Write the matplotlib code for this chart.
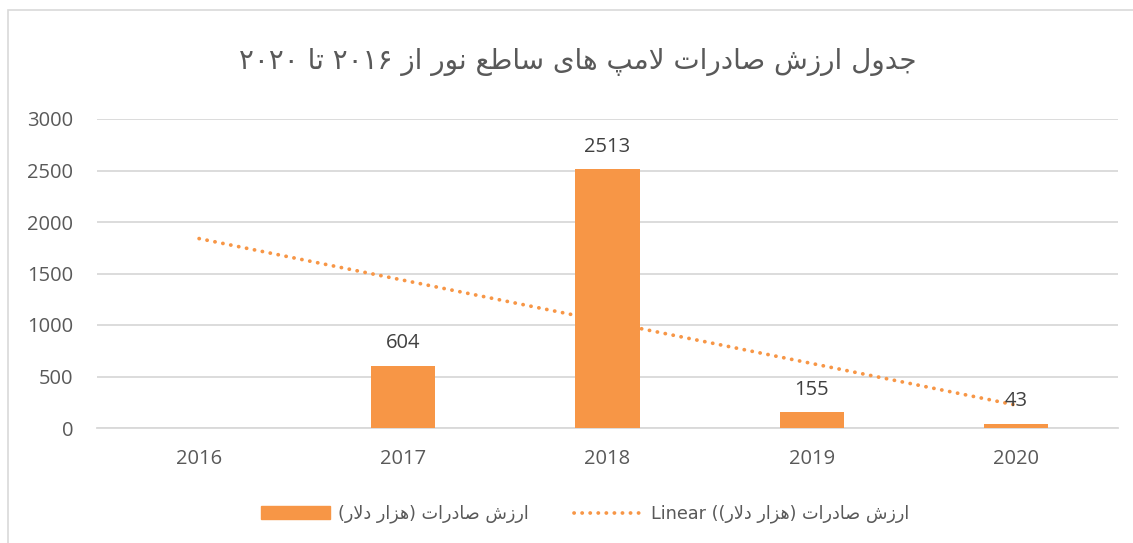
import matplotlib
matplotlib.use("Agg")
import matplotlib.pyplot as plt
import numpy as np
from matplotlib.patches import Rectangle
from matplotlib.lines import Line2D

# ---------------- data ----------------
years = ["2016", "2017", "2018", "2019", "2020"]
values = [np.nan, 604, 2513, 155, 43]
title_text = "جدول ارزش صادرات لامپ های ساطع نور از ۲۰۱۶ تا ۲۰۲۰"
series_name = "ارزش صادرات (هزار دلار)"
trend_prefix = "Linear ("
yticks = [0, 500, 1000, 1500, 2000, 2500, 3000]

# ---------------- simple Arabic/Persian shaping for display ----------------
R_JOIN = {"ا": 0xFE8D, "د": 0xFEA9, "ذ": 0xFEAB, "ر": 0xFEAD, "ز": 0xFEAF,
          "و": 0xFEED, "ژ": 0xFB8A}
D_JOIN = {"ب": 0xFE8F, "ت": 0xFE95, "ث": 0xFE99, "ج": 0xFE9D, "ح": 0xFEA1,
          "خ": 0xFEA5, "س": 0xFEB1, "ش": 0xFEB5, "ص": 0xFEB9, "ض": 0xFEBD,
          "ط": 0xFEC1, "ظ": 0xFEC5, "ع": 0xFEC9, "غ": 0xFECD, "ف": 0xFED1,
          "ق": 0xFED5, "ل": 0xFEDD, "م": 0xFEE1, "ن": 0xFEE5, "ه": 0xFEE9,
          "پ": 0xFB56, "ی": 0xFBFC, "ک": 0xFB8E}


def _joins(c):
    return c in R_JOIN or c in D_JOIN


def shape(s):
    out = []
    i = 0
    n = len(s)
    while i < n:
        c = s[i]
        prev = s[i - 1] if i > 0 else ""
        link_prev = prev in D_JOIN and _joins(c)
        if c == "ل" and i + 1 < n and s[i + 1] == "ا":
            out.append(chr(0xFEFC if link_prev else 0xFEFB))
            i += 2
            continue
        nxt = s[i + 1] if i + 1 < n else ""
        if c in R_JOIN:
            out.append(chr(R_JOIN[c] + (1 if link_prev else 0)))
        elif c in D_JOIN:
            link_next = _joins(nxt)
            base = D_JOIN[c]
            if link_prev and link_next:
                off = 3
            elif link_prev:
                off = 1
            elif link_next:
                off = 2
            else:
                off = 0
            out.append(chr(base + off))
        else:
            out.append(c)
        i += 1
    return "".join(out)


MIRROR = {"(": ")", ")": "("}


def rtl(s):
    shaped = shape(s)
    tokens = []
    cur = ""
    cur_digit = None
    for ch in shaped:
        d = ch.isdigit()
        if cur and d != cur_digit:
            tokens.append((cur, cur_digit))
            cur = ""
        cur += ch
        cur_digit = d
    if cur:
        tokens.append((cur, cur_digit))
    vis = []
    for tok, is_digit in reversed(tokens):
        if is_digit:
            vis.append(tok)
        else:
            vis.append("".join(MIRROR.get(ch, ch) for ch in reversed(tok)))
    return "".join(vis)


# ---------------- figure ----------------
W, H = 1133, 543
fig = plt.figure(figsize=(W / 100, H / 100), dpi=100)
fig.patch.set_facecolor("white")

ax = fig.add_axes([97 / W, 1 - 428 / H, (1118 - 97) / W, (428 - 119) / H])

orange = "#F79646"
text_col = "#595959"
grid_col = "#D9D9D9"

x = np.arange(len(years))
vals = np.array(values, dtype=float)

# trendline (linear fit on available points, extended over all categories)
mask = ~np.isnan(vals)
coef = np.polyfit(x[mask] + 1, vals[mask], 1)
trend = np.polyval(coef, x + 1)
ax.plot(x, trend, color=orange, lw=2.7, linestyle=(0, (0.05, 2.1)),
        dash_capstyle="round", zorder=2)

bars = ax.bar(x, np.nan_to_num(vals), width=0.314, color=orange, zorder=3)

for xi, v in zip(x, vals):
    if not np.isnan(v):
        ax.annotate(f"{int(v)}", (xi, v), xytext=(0, 9), textcoords="offset points",
                    ha="center", va="bottom", fontsize=14.5, color="#404040",
                    family="Open Sans", zorder=4)

ax.set_xlim(-0.5, len(years) - 0.5)
ax.set_ylim(0, 3000)
ax.set_yticks(yticks)
ax.set_xticks(x)
ax.set_xticklabels(years)
ax.tick_params(axis="both", length=0, labelsize=14.5, labelcolor=text_col)
ax.tick_params(axis="y", pad=17)
ax.tick_params(axis="x", pad=15)
for lab in ax.get_xticklabels() + ax.get_yticklabels():
    lab.set_family("Open Sans")

ax.grid(axis="y", color=grid_col, lw=1.3, zorder=0)
ax.set_axisbelow(True)
for sp in ["left", "right", "top"]:
    ax.spines[sp].set_visible(False)
ax.spines["bottom"].set_color(grid_col)
ax.spines["bottom"].set_linewidth(1.3)

# title
fig.text(578 / W, 1 - 62 / H, rtl(title_text), ha="center", va="center",
         fontsize=20, color=text_col, family=["DejaVu Sans", "Noto Sans"])

# legend
leg_label1 = rtl(series_name)
leg_label2 = trend_prefix + rtl(series_name)
h1 = Rectangle((0, 0), 1, 1, color=orange)
h2 = Line2D([], [], color=orange, lw=2.7, linestyle=(0, (0.05, 2.1)),
            dash_capstyle="round")
leg = fig.legend([h1, h2], [leg_label1, leg_label2], loc="center",
                 bbox_to_anchor=(585 / W, 1 - 514 / H), ncol=2, frameon=False,
                 handlelength=3.9, handletextpad=0.45,
                 columnspacing=2.6, prop={"family": ["DejaVu Sans"], "size": 12.7})
for t in leg.get_texts():
    t.set_color(text_col)

# chart border
fig.patches.append(Rectangle((8 / W, -0.01), 1.02, 1 - 10 / H + 0.01,
                             transform=fig.transFigure, fill=False,
                             edgecolor=grid_col, lw=1.2, zorder=0))

fig.savefig("out.png", dpi=100)
